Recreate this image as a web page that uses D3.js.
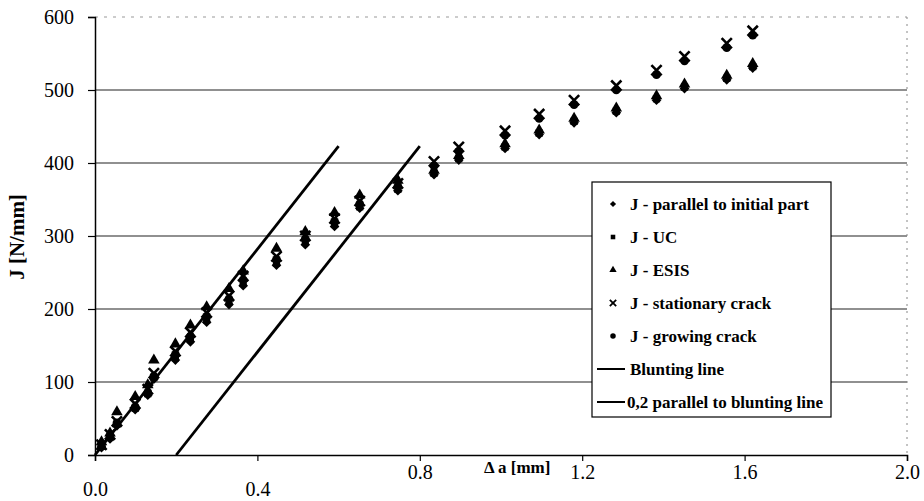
<!DOCTYPE html>
<html>
<head>
<meta charset="utf-8">
<script src="https://cdn.jsdelivr.net/npm/d3@7"></script>
<style>
  body { margin: 0; background: #fff; }
  svg { display: block; }
</style>
</head>
<body>
<div id="chart"></div>
<script>
// crack extension positions [mm]
var deltaA = [0.016, 0.037, 0.054, 0.099, 0.13, 0.145, 0.198, 0.235, 0.275, 0.33, 0.365, 0.447,
              0.518, 0.59, 0.652, 0.746, 0.835, 0.896, 1.01, 1.094, 1.18, 1.284, 1.383, 1.452, 1.556, 1.62];

// J values [N/mm] per method
var jParallel   = [10, 22, 40, 62, 82, 104, 130, 155, 182, 206, 232, 260, 288, 313, 338, 362, 384, 404, 420, 439, 455, 469, 486, 502, 514, 530];
var jUC         = [12, 24, 42, 64, 84, 106, 133, 158, 185, 210, 235, 263, 292, 316, 340, 364, 386, 406, 422, 441, 457, 471, 488, 504, 516, 532];
var jESIS       = [18, 30, 59, 80, 96, 130, 152, 178, 203, 228, 252, 283, 306, 332, 356, 376, 390, 410, 426, 445, 461, 475, 492, 508, 520, 536];
var jStationary = [14, 28, 46, 70, 90, 112, 142, 168, 195, 218, 245, 272, 300, 324, 348, 372, 402, 422, 444, 467, 486, 506, 527, 546, 564, 581];
var jGrowing    = [12, 25, 44, 66, 86, 108, 138, 163, 190, 214, 240, 268, 296, 320, 344, 368, 396, 416, 438, 461, 480, 500, 521, 540, 558, 575];

// construction lines
var bluntingLine = [[0, 0], [0.6, 423]];
var offsetLine   = [[0.2, 0], [0.8, 423]];

var xTicks = [0, 0.4, 0.8, 1.2, 1.6, 2.0];
var yTicks = [0, 100, 200, 300, 400, 500, 600];

var seriesNames = ["J - parallel to initial part", "J - UC", "J - ESIS", "J - stationary crack", "J - growing crack"];
var lineNames = ["Blunting line", "0,2 parallel to blunting line"];

var width = 924, height = 501;
var serif = "'Liberation Serif', 'Times New Roman', 'DejaVu Serif', serif";

var svg = d3.select("#chart").append("svg")
    .attr("width", width)
    .attr("height", height);

var x = d3.scaleLinear().domain([0, 2]).range([95, 907]);
var y = d3.scaleLinear().domain([0, 600]).range([455, 17]);

// grid
svg.append("g")
    .selectAll("line")
    .data(yTicks.filter(function (d) { return d > 0 && d < 600; }))
    .enter().append("line")
    .attr("x1", x(0)).attr("x2", x(2))
    .attr("y1", function (d) { return y(d); })
    .attr("y2", function (d) { return y(d); })
    .style("stroke", "#222")
    .style("stroke-width", 1.2);

// faint top and right frame
svg.append("line")
    .attr("x1", x(0)).attr("x2", x(2)).attr("y1", y(600)).attr("y2", y(600))
    .style("stroke", "#999").style("stroke-width", 1).style("stroke-dasharray", "3,6");
svg.append("line")
    .attr("x1", x(2)).attr("x2", x(2)).attr("y1", y(600)).attr("y2", y(0))
    .style("stroke", "#888").style("stroke-width", 1).style("stroke-dasharray", "2,5");

// axes
var xAxis = svg.append("g")
    .attr("transform", "translate(0," + y(0) + ")")
    .call(d3.axisBottom(x).tickValues(xTicks).tickSize(6).tickFormat(d3.format(".1f")));
xAxis.attr("font-family", null);
xAxis.select(".domain").style("stroke", "#000").style("stroke-width", 1.5);
xAxis.selectAll(".tick line").style("stroke", "#000").style("stroke-width", 1.2);
xAxis.selectAll(".tick text")
    .style("font-family", serif)
    .style("font-size", "20px")
    .attr("y", function (d) { return d < 0.6 ? 27 : 10; })
    .attr("dy", "0.71em");

var yAxis = svg.append("g")
    .attr("transform", "translate(" + x(0) + ",0)")
    .call(d3.axisLeft(y).tickValues(yTicks).tickSize(7));
yAxis.attr("font-family", null);
yAxis.select(".domain").style("stroke", "#000").style("stroke-width", 1.5);
yAxis.selectAll(".tick line").style("stroke", "#000").style("stroke-width", 1.2);
yAxis.selectAll(".tick text")
    .style("font-family", serif)
    .style("font-size", "20px")
    .attr("x", -21);

// axis titles
svg.append("text")
    .attr("transform", "translate(24,237) rotate(-90)")
    .attr("text-anchor", "middle")
    .style("font-family", serif)
    .style("font-size", "21px")
    .style("font-weight", "bold")
    .text("J [N/mm]");

svg.append("text")
    .attr("x", 484)
    .attr("y", 473)
    .style("font-family", serif)
    .style("font-size", "17px")
    .style("font-weight", "bold")
    .text("\u0394 a [mm]");

// blunting lines
var line = d3.line()
    .x(function (d) { return x(d[0]); })
    .y(function (d) { return y(d[1]); });

[bluntingLine, offsetLine].forEach(function (l) {
    svg.append("path")
        .datum(l)
        .attr("d", line)
        .style("fill", "none")
        .style("stroke", "#000")
        .style("stroke-width", 2.8);
});

// markers
var symbols = [
    { data: jParallel,   type: d3.symbolDiamond2, size: 60, stroke: false },
    { data: jUC,         type: d3.symbolSquare,   size: 52, stroke: false },
    { data: jESIS,       type: d3.symbolTriangle, size: 58, stroke: false },
    { data: jStationary, type: d3.symbolTimes,    size: 70, stroke: true },
    { data: jGrowing,    type: d3.symbolCircle,   size: 60, stroke: false }
];

symbols.forEach(function (s) {
    svg.append("g")
        .selectAll("path")
        .data(s.data)
        .enter().append("path")
        .attr("transform", function (d, i) { return "translate(" + x(deltaA[i]) + "," + y(d) + ")"; })
        .attr("d", d3.symbol().type(s.type).size(s.size))
        .style("fill", s.stroke ? "none" : "#000")
        .style("stroke", s.stroke ? "#000" : "none")
        .style("stroke-width", 2.6);
});

// legend
var legend = svg.append("g").attr("transform", "translate(592,182)");
legend.append("rect")
    .attr("width", 239)
    .attr("height", 235)
    .style("fill", "#fff")
    .style("stroke", "#000")
    .style("stroke-width", 1.2);

symbols.forEach(function (s, i) {
    var yy = 22 + i * 33;
    legend.append("path")
        .attr("transform", "translate(21," + yy + ")")
        .attr("d", d3.symbol().type(s.type).size(s.size * 0.4))
        .style("fill", s.stroke ? "none" : "#000")
        .style("stroke", s.stroke ? "#000" : "none")
        .style("stroke-width", 1.8);
    legend.append("text")
        .attr("x", 38)
        .attr("y", yy)
        .attr("dy", "0.35em")
        .style("font-family", serif)
        .style("font-size", "17px")
        .style("font-weight", "bold")
        .text(seriesNames[i]);
});

lineNames.forEach(function (n, i) {
    var yy = 22 + (i + 5) * 33;
    legend.append("line")
        .attr("x1", 5).attr("x2", 33)
        .attr("y1", yy).attr("y2", yy)
        .style("stroke", "#000")
        .style("stroke-width", 2);
    legend.append("text")
        .attr("x", i === 0 ? 38 : 35)
        .attr("y", yy)
        .attr("dy", "0.35em")
        .style("font-family", serif)
        .style("font-size", "17px")
        .style("font-weight", "bold")
        .text(n);
});
</script>
</body>
</html>
